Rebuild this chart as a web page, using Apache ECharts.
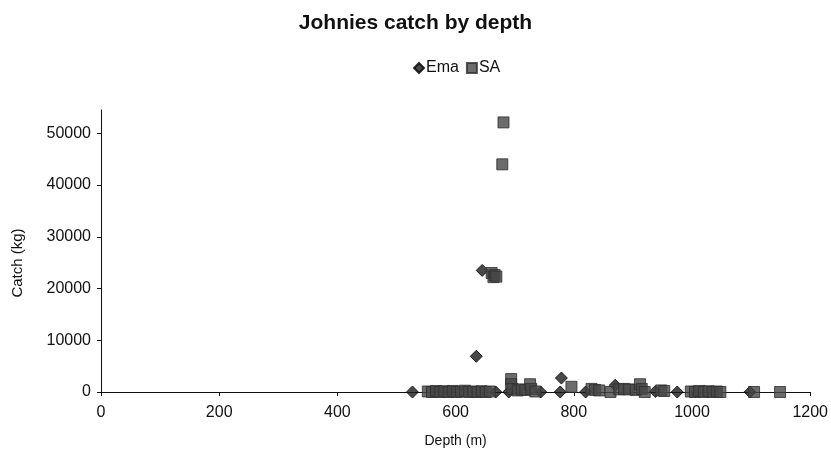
<!DOCTYPE html>
<html>
<head>
<meta charset="utf-8">
<script src="https://cdn.jsdelivr.net/npm/echarts@6/dist/echarts.min.js"></script>
<style>
  html, body { margin: 0; padding: 0; background: #fff; }
  #chart { width: 831px; height: 463px; }
</style>
</head>
<body>
<div id="chart"></div>
<script>
// Catch (kg) against depth (m), one array of [depth, catch] pairs per vessel.
const emaPoints = [
  [527, 0], [635, 6900], [645, 23500], [668, 0], [690, 0], [744, 0],
  [777, 0], [779, 2700], [820, 0], [870, 1300], [938, 100], [975, 0],
  [1098, 0]
];
const saPoints = [
  [553, 100], [560, 0], [567, 200], [574, 0], [581, 150], [588, 0],
  [595, 200], [602, 0], [609, 100], [616, 250], [623, 0], [630, 100],
  [637, 0], [644, 150], [651, 0], [658, 100],
  [661, 23000], [664, 22200], [666, 22600], [669, 22300],
  [679, 44000], [681, 52100],
  [694, 2500], [694, 1500], [696, 600], [705, 300], [712, 500], [718, 400],
  [726, 1500], [728, 600], [735, 100],
  [796, 1000],
  [830, 600], [836, 400], [843, 300],
  [862, 0], [877, 500], [885, 600], [893, 500], [905, 400], [912, 1500],
  [915, 600], [920, 0],
  [948, 300], [953, 200],
  [998, 100], [1005, 0], [1012, 200], [1020, 0], [1028, 150], [1035, 0],
  [1042, 100], [1048, 0],
  [1105, 0], [1149, 0]
];
const depthTicks = [0, 200, 400, 600, 800, 1000, 1200];
const catchTicks = [0, 10000, 20000, 30000, 40000, 50000];

const font = 'Liberation Sans, Arial, sans-serif';
const plain = (v) => String(v);
const chart = echarts.init(document.getElementById('chart'), null, { renderer: 'canvas' });

chart.setOption({
  backgroundColor: '#ffffff',
  animation: false,
  title: {
    text: 'Johnies catch by depth',
    left: 'center',
    top: 8,
    textStyle: { fontFamily: font, fontSize: 21, fontWeight: 'bold', color: '#111' }
  },
  legend: {
    left: 408,
    top: 55,
    itemWidth: 10,
    itemHeight: 10,
    itemGap: 7,
    textStyle: { fontFamily: font, fontSize: 16, color: '#111', padding: [0, 0, 0, -3] },
    data: [
      { name: 'Ema', icon: 'diamond' },
      { name: 'SA', icon: 'rect' }
    ]
  },
  grid: { left: 101, right: 19, top: 110, bottom: 71 },
  xAxis: {
    type: 'value',
    min: depthTicks[0],
    max: depthTicks[depthTicks.length - 1],
    interval: 200,
    name: 'Depth (m)',
    nameLocation: 'middle',
    nameGap: 42,
    nameTextStyle: { fontFamily: font, fontSize: 14, color: '#111' },
    axisLine: { onZero: false, lineStyle: { color: '#111', width: 1 } },
    axisTick: { show: true, inside: false, length: 4, lineStyle: { color: '#111' } },
    axisLabel: { fontFamily: font, fontSize: 16, color: '#111', margin: 13, formatter: plain },
    splitLine: { show: false }
  },
  yAxis: {
    type: 'value',
    min: 0,
    max: 54500,
    name: 'Catch (kg)',
    nameLocation: 'middle',
    nameGap: 76,
    nameTextStyle: { fontFamily: font, fontSize: 15, color: '#111', padding: [0, 24, 0, 0] },
    axisLine: { show: true, lineStyle: { color: '#111', width: 1 } },
    axisTick: { show: true, inside: false, length: 4, customValues: catchTicks, lineStyle: { color: '#111' } },
    axisLabel: { fontFamily: font, fontSize: 16, color: '#111', margin: 10, customValues: catchTicks, formatter: plain },
    splitLine: { show: false }
  },
  series: [
    {
      name: 'Ema',
      type: 'scatter',
      symbol: 'diamond',
      symbolSize: [12, 12],
      data: emaPoints,
      itemStyle: { color: '#1c1c1c', borderColor: '#000', borderWidth: 1 },
      z: 2
    },
    {
      name: 'SA',
      type: 'scatter',
      symbol: 'rect',
      symbolSize: 11,
      data: saPoints,
      itemStyle: { color: '#474747', borderColor: '#2e2e2e', borderWidth: 1 },
      z: 3
    }
  ]
});
</script>
</body>
</html>
